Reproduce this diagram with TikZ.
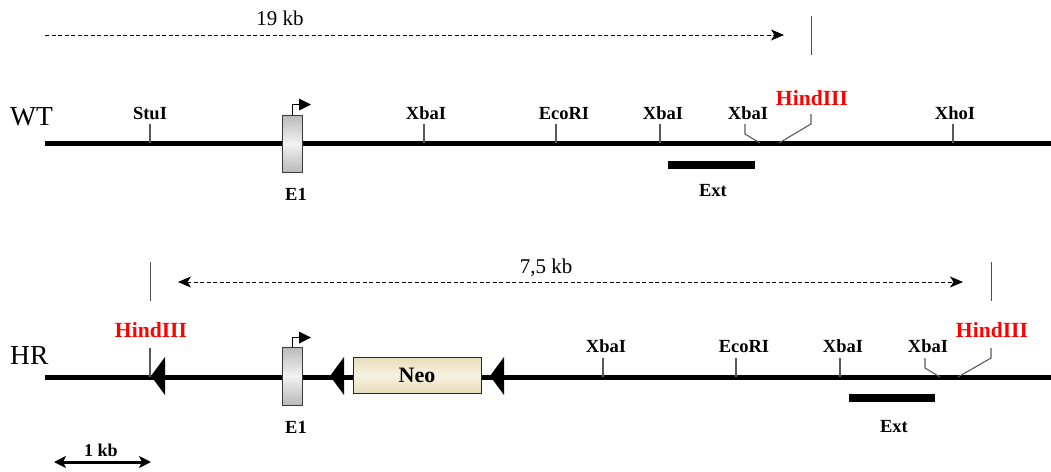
\documentclass[tikz,border=0pt]{standalone}
\usepackage{fontspec}
\setmainfont{Liberation Serif}
\usetikzlibrary{arrows.meta}
\begin{document}
\begin{tikzpicture}[x=1pt,y=-1pt,
  dna/.style={line width=5pt},
  site/.style={draw=gray!70!black, line width=1.1pt},
  guide/.style={draw=gray!60!black, line width=1pt},
  lbl/.style={font=\fontsize{18.5}{20}\selectfont\bfseries, anchor=base, inner sep=0pt},
  hind/.style={font=\fontsize{21.6}{24}\selectfont\bfseries, text=red, anchor=base, inner sep=0pt},
  big/.style={font=\fontsize{27.5}{30}\selectfont, anchor=base west, inner sep=0pt},
  dist/.style={font=\fontsize{21}{24}\selectfont, anchor=base, inner sep=0pt},
  span/.style={dashed, dash pattern=on 4pt off 2.5pt, line width=0.9pt},
  exonbox/.style={draw=gray!45!black, line width=0.8pt, top color=gray!55, bottom color=gray!55, middle color=gray!10, minimum width=20pt, inner sep=0pt},
  neobox/.style={draw=gray!30!black, line width=1pt, top color={rgb,255:red,232;green,221;blue,185}, bottom color={rgb,255:red,232;green,221;blue,185}, middle color={rgb,255:red,247;green,241;blue,224}, minimum width=128pt, minimum height=36pt, inner sep=0pt, font=\fontsize{22}{24}\selectfont\bfseries},
  probe/.style={fill=black},
  tipd/.style={-{Stealth[length=13pt,width=11pt,inset=3.5pt]}},
  tipdd/.style={{Stealth[length=13pt,width=11pt,inset=3.5pt]}-{Stealth[length=13pt,width=11pt,inset=3.5pt]}},
  tipk/.style={{Stealth[length=12pt,width=12pt,inset=3pt]}-{Stealth[length=12pt,width=12pt,inset=3pt]}},
]
\path[use as bounding box] (0,0) rectangle (1051,471);

% ---------------- WT ----------------
\node[big] (wt) at (10,125) {WT};
\coordinate (wtL) at (45,143);
\coordinate (wtR) at (1051,143);
\draw[dna] (wtL) -- (wtR);

% 19 kb
\coordinate (a19s) at (45,35);
\coordinate (a19e) at (784,35);
\draw[span, tipd] (a19s) -- (a19e);
\node[dist] (l19) at (280,25) {19 kb};
\coordinate (g1t) at (811,16);
\coordinate (g1b) at (811,55);
\draw[guide] (g1t) -- (g1b);

% sites WT
\coordinate (s1) at (150,143);
\draw[site] (s1) -- ++(0,-19);
\node[lbl] (s1l) at (150,119) {StuI};
\coordinate (s2) at (424,143);
\draw[site] (s2) -- ++(0,-19);
\node[lbl] (s2l) at (426,119) {XbaI};
\coordinate (s3) at (556,143);
\draw[site] (s3) -- ++(0,-19);
\node[lbl] (s3l) at (564,119) {EcoRI};
\coordinate (s4) at (660,143);
\draw[site] (s4) -- ++(0,-19);
\node[lbl] (s4l) at (663,119) {XbaI};
\coordinate (s5) at (760,143);
\draw[site] (s5) -- (745,134) -- (745,124);
\node[lbl] (s5l) at (748,119) {XbaI};
\coordinate (s6) at (779,143);
\draw[site] (s6) -- (811,124) -- (811,114);
\node[hind] (s6l) at (812,105) {HindIII};
\coordinate (s7) at (953,143);
\draw[site] (s7) -- ++(0,-19);
\node[lbl] (s7l) at (955,119) {XhoI};

% E1 WT
\node[exonbox, minimum height=57pt] (e1a) at (292,143.5) {};
\draw[line width=1pt] (e1a.north) -- ++(0,-10) -- ++(7,0) coordinate (p1);
\fill (p1) ++(0,-6) -- ++(12,6) -- ++(-12,6) -- cycle;
\node[lbl] (e1al) at (296,200) {E1};

% Ext WT
\fill[probe] (668,161) rectangle (755,169);
\node[lbl] (extal) at (713,196) {Ext};

% ---------------- HR ----------------
\node[big] (hr) at (10,364) {HR};
\coordinate (hrL) at (45,377);
\coordinate (hrR) at (1051,377);
\draw[dna] (hrL) -- (hrR);

% 7,5 kb
\coordinate (a7s) at (178,282);
\coordinate (a7e) at (963,282);
\draw[span, tipdd] (a7s) -- (a7e);
\node[dist] (l7) at (546,273) {7,5 kb};
\coordinate (g2t) at (150,262);
\coordinate (g2b) at (150,301);
\draw[guide] (g2t) -- (g2b);
\coordinate (g3t) at (991,262);
\coordinate (g3b) at (991,301);
\draw[guide] (g3t) -- (g3b);

% sites HR
\coordinate (h1) at (150,377);
\draw[site] (h1) -- (150,348);
\node[hind] (h1l) at (151,337) {HindIII};
\coordinate (h2) at (603,377);
\draw[site] (h2) -- ++(0,-19);
\node[lbl] (h2l) at (606,352) {XbaI};
\coordinate (h3) at (736,377);
\draw[site] (h3) -- ++(0,-19);
\node[lbl] (h3l) at (744,352) {EcoRI};
\coordinate (h4) at (840,377);
\draw[site] (h4) -- ++(0,-19);
\node[lbl] (h4l) at (843,352) {XbaI};
\coordinate (h5) at (940,377);
\draw[site] (h5) -- (925,368) -- (925,358);
\node[lbl] (h5l) at (928,352) {XbaI};
\coordinate (h6) at (958,377);
\draw[site] (h6) -- (991,358) -- (991,348);
\node[hind] (h6l) at (992,337) {HindIII};

% loxP triangles
\fill (151,376) -- (165,357) -- (165,395) -- cycle;
\fill (330,376) -- (344,357) -- (344,395) -- cycle;
\fill (490,376) -- (504,357) -- (504,395) -- cycle;

% E1 HR
\node[exonbox, minimum height=58pt] (e1b) at (292,376) {};
\draw[line width=1pt] (e1b.north) -- ++(0,-9) -- ++(7,0) coordinate (p2);
\fill (p2) ++(0,-6) -- ++(12,6) -- ++(-12,6) -- cycle;
\node[lbl] (e1bl) at (296,433) {E1};

% Neo
\node[neobox] (neo) at (417,375) {Neo};

% Ext HR
\fill[probe] (849,394) rectangle (935,402);
\node[lbl] (extbl) at (894,432) {Ext};

% 1 kb scale
\coordinate (k1) at (54,462);
\coordinate (k2) at (151,462);
\draw[line width=3pt, tipk] (k1) -- (k2);
\node[lbl, font=\fontsize{18}{20}\selectfont\bfseries] (kl) at (101,456) {1 kb};
\end{tikzpicture}
\end{document}
